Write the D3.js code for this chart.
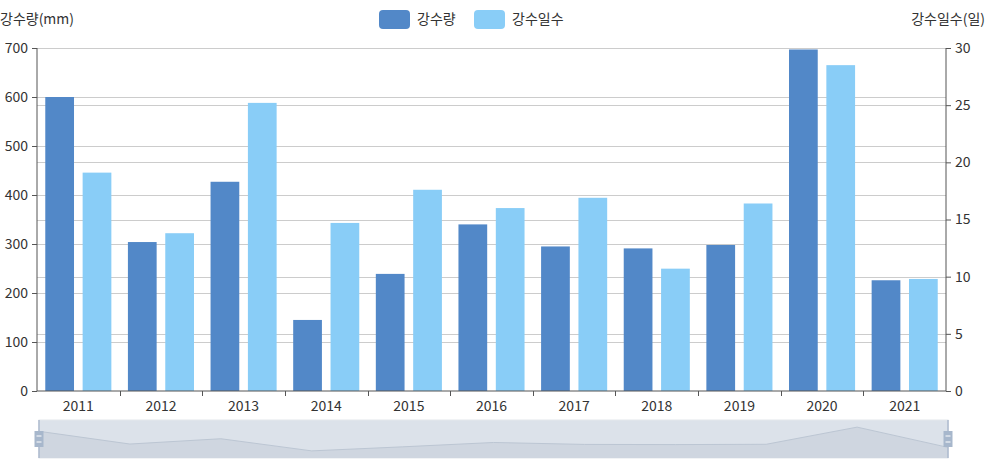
<!DOCTYPE html>
<html>
<head>
<meta charset="utf-8">
<script src="https://cdn.jsdelivr.net/npm/d3@7"></script>
<style>
  body { margin: 0; background: #fff; }
  text { font-family: "Noto Sans CJK KR", "Noto Sans", sans-serif; }
</style>
</head>
<body>
<div id="chart"></div>
<script>
// data
var years = ["2011", "2012", "2013", "2014", "2015", "2016", "2017", "2018", "2019", "2020", "2021"];
var rainfall = [600, 304, 427, 145, 239, 340, 295, 291, 298, 697, 226];   // 강수량 (mm)
var rainDays = [19.1, 13.8, 25.2, 14.7, 17.6, 16.0, 16.9, 10.7, 16.4, 28.5, 9.8]; // 강수일수 (일)
var leftTicks = [0, 100, 200, 300, 400, 500, 600, 700];
var rightTicks = [0, 5, 10, 15, 20, 25, 30];
var seriesNames = ["강수량", "강수일수"];
var colors = ["#5288c8", "#89cdf7"];

var svgWidth = 990;
var svgHeight = 470;
var plot = { left: 37, right: 946, top: 48, bottom: 391 };

var svg = d3.select("#chart")
  .append("svg")
  .attr("width", svgWidth)
  .attr("height", svgHeight);

// scales
var x0 = d3.scaleBand()
  .domain(years)
  .range([plot.left, plot.right])
  .padding(0);

var x1 = d3.scaleBand()
  .domain([0, 1])
  .range([0, x0.bandwidth()])
  .paddingInner(0.2308)
  .paddingOuter(0.2216);

var yLeft = d3.scaleLinear().domain([0, 700]).range([plot.bottom, plot.top]);
var yRight = d3.scaleLinear().domain([0, 30]).range([plot.bottom, plot.top]);

// grid lines (both axes)
var grid = svg.append("g");
grid.selectAll("line.gl")
  .data(leftTicks.slice(1))
  .enter().append("line")
  .attr("x1", plot.left).attr("x2", plot.right)
  .attr("y1", d => Math.round(yLeft(d)) + 0.5)
  .attr("y2", d => Math.round(yLeft(d)) + 0.5)
  .attr("stroke", "#cccccc");
grid.selectAll("line.gr")
  .data(rightTicks.slice(1))
  .enter().append("line")
  .attr("x1", plot.left).attr("x2", plot.right)
  .attr("y1", d => Math.round(yRight(d)) + 0.5)
  .attr("y2", d => Math.round(yRight(d)) + 0.5)
  .attr("stroke", "#cccccc");

// bars
var groups = svg.append("g").selectAll("g")
  .data(years)
  .enter().append("g")
  .attr("transform", d => `translate(${x0(d)},0)`);

groups.append("rect")
  .attr("x", x1(0))
  .attr("width", x1.bandwidth())
  .attr("y", (d, i) => yLeft(rainfall[i]))
  .attr("height", (d, i) => plot.bottom - yLeft(rainfall[i]))
  .attr("fill", colors[0]);

groups.append("rect")
  .attr("x", x1(1))
  .attr("width", x1.bandwidth())
  .attr("y", (d, i) => yRight(rainDays[i]))
  .attr("height", (d, i) => plot.bottom - yRight(rainDays[i]))
  .attr("fill", colors[1]);

// axes
var axisColor = "#555";
var textColor = "#333";

var leftAxis = d3.axisLeft(yLeft).tickValues(leftTicks).tickSize(5).tickPadding(4);
var rightAxis = d3.axisRight(yRight).tickValues(rightTicks).tickSize(5).tickPadding(4);
var bottomAxis = d3.axisBottom(x0).tickSize(0).tickPadding(10);

var gl = svg.append("g").attr("transform", `translate(${plot.left},0)`).call(leftAxis);
var gr = svg.append("g").attr("transform", `translate(${plot.right},0)`).call(rightAxis);
var gb = svg.append("g").attr("transform", `translate(0,${plot.bottom})`).call(bottomAxis);

[gl, gr, gb].forEach(function(g) {
  g.select(".domain").attr("stroke", axisColor).attr("stroke-width", 1);
  g.selectAll(".tick line").attr("stroke", axisColor);
  g.selectAll(".tick text")
    .attr("fill", textColor)
    .style("font-size", "14px")
    .style("font-family", '"Noto Sans CJK KR", "Noto Sans", sans-serif');
});
gl.select(".domain").attr("d", `M0,${plot.top}V${plot.bottom}`);
gr.select(".domain").attr("d", `M0,${plot.top}V${plot.bottom}`);
gb.select(".domain").attr("d", `M${plot.left},0H${plot.right}`);

// category boundary ticks on x axis
svg.append("g").selectAll("line")
  .data(years.slice(1))
  .enter().append("line")
  .attr("x1", d => Math.round(x0(d)) + 0.5)
  .attr("x2", d => Math.round(x0(d)) + 0.5)
  .attr("y1", plot.bottom)
  .attr("y2", plot.bottom + 5)
  .attr("stroke", axisColor);

// axis titles
svg.append("text")
  .attr("x", 0).attr("y", 24)
  .attr("fill", textColor)
  .style("font-size", "14px")
  .text("강수량(mm)");

svg.append("text")
  .attr("x", 985).attr("y", 24)
  .attr("text-anchor", "end")
  .attr("fill", textColor)
  .style("font-size", "14px")
  .text("강수일수(일)");

// legend
var legendX = [379, 474];
var legend = svg.append("g").selectAll("g")
  .data(seriesNames)
  .enter().append("g")
  .attr("transform", (d, i) => `translate(${legendX[i]},10)`);
legend.append("rect")
  .attr("width", 31).attr("height", 19)
  .attr("rx", 4).attr("ry", 4)
  .attr("fill", (d, i) => colors[i]);
legend.append("text")
  .attr("x", 38).attr("y", 14)
  .attr("fill", textColor)
  .style("font-size", "14px")
  .text(d => d);

// data zoom slider
var slider = { left: 39, right: 948, top: 420, bottom: 458 };
var xs = d3.scalePoint().domain(years).range([slider.left, slider.right]);
var ext = d3.extent(rainfall);
var off = (ext[1] - ext[0]) * 0.3;
var ys = d3.scaleLinear().domain([ext[0] - off, ext[1] + off]).range([slider.bottom, slider.top]);

var sz = svg.append("g");
sz.append("rect")
  .attr("x", slider.left).attr("y", slider.top)
  .attr("width", slider.right - slider.left)
  .attr("height", slider.bottom - slider.top)
  .attr("fill", "#dce2ea")
  .attr("stroke", "#e4e7ec");

var area = d3.area()
  .x((d, i) => xs(years[i]))
  .y0(slider.bottom)
  .y1(d => ys(d));
var line = d3.line()
  .x((d, i) => xs(years[i]))
  .y(d => ys(d));

sz.append("path").attr("d", area(rainfall)).attr("fill", "#cfd6e0");
sz.append("path").attr("d", line(rainfall)).attr("fill", "none").attr("stroke", "#bcc6d3").attr("stroke-width", 1);

// handles
[slider.left, slider.right].forEach(function(hx) {
  sz.append("line")
    .attr("x1", hx).attr("x2", hx)
    .attr("y1", slider.top).attr("y2", slider.bottom)
    .attr("stroke", "#acbace").attr("stroke-width", 1.5);
  sz.append("rect")
    .attr("x", hx - 4.5).attr("y", 431)
    .attr("width", 9).attr("height", 16)
    .attr("fill", "#a7b7cc");
  [436, 442].forEach(function(ly) {
    sz.append("line")
      .attr("x1", hx - 2.5).attr("x2", hx + 2.5)
      .attr("y1", ly).attr("y2", ly)
      .attr("stroke", "#fff").attr("stroke-width", 1);
  });
});
</script>
</body>
</html>
